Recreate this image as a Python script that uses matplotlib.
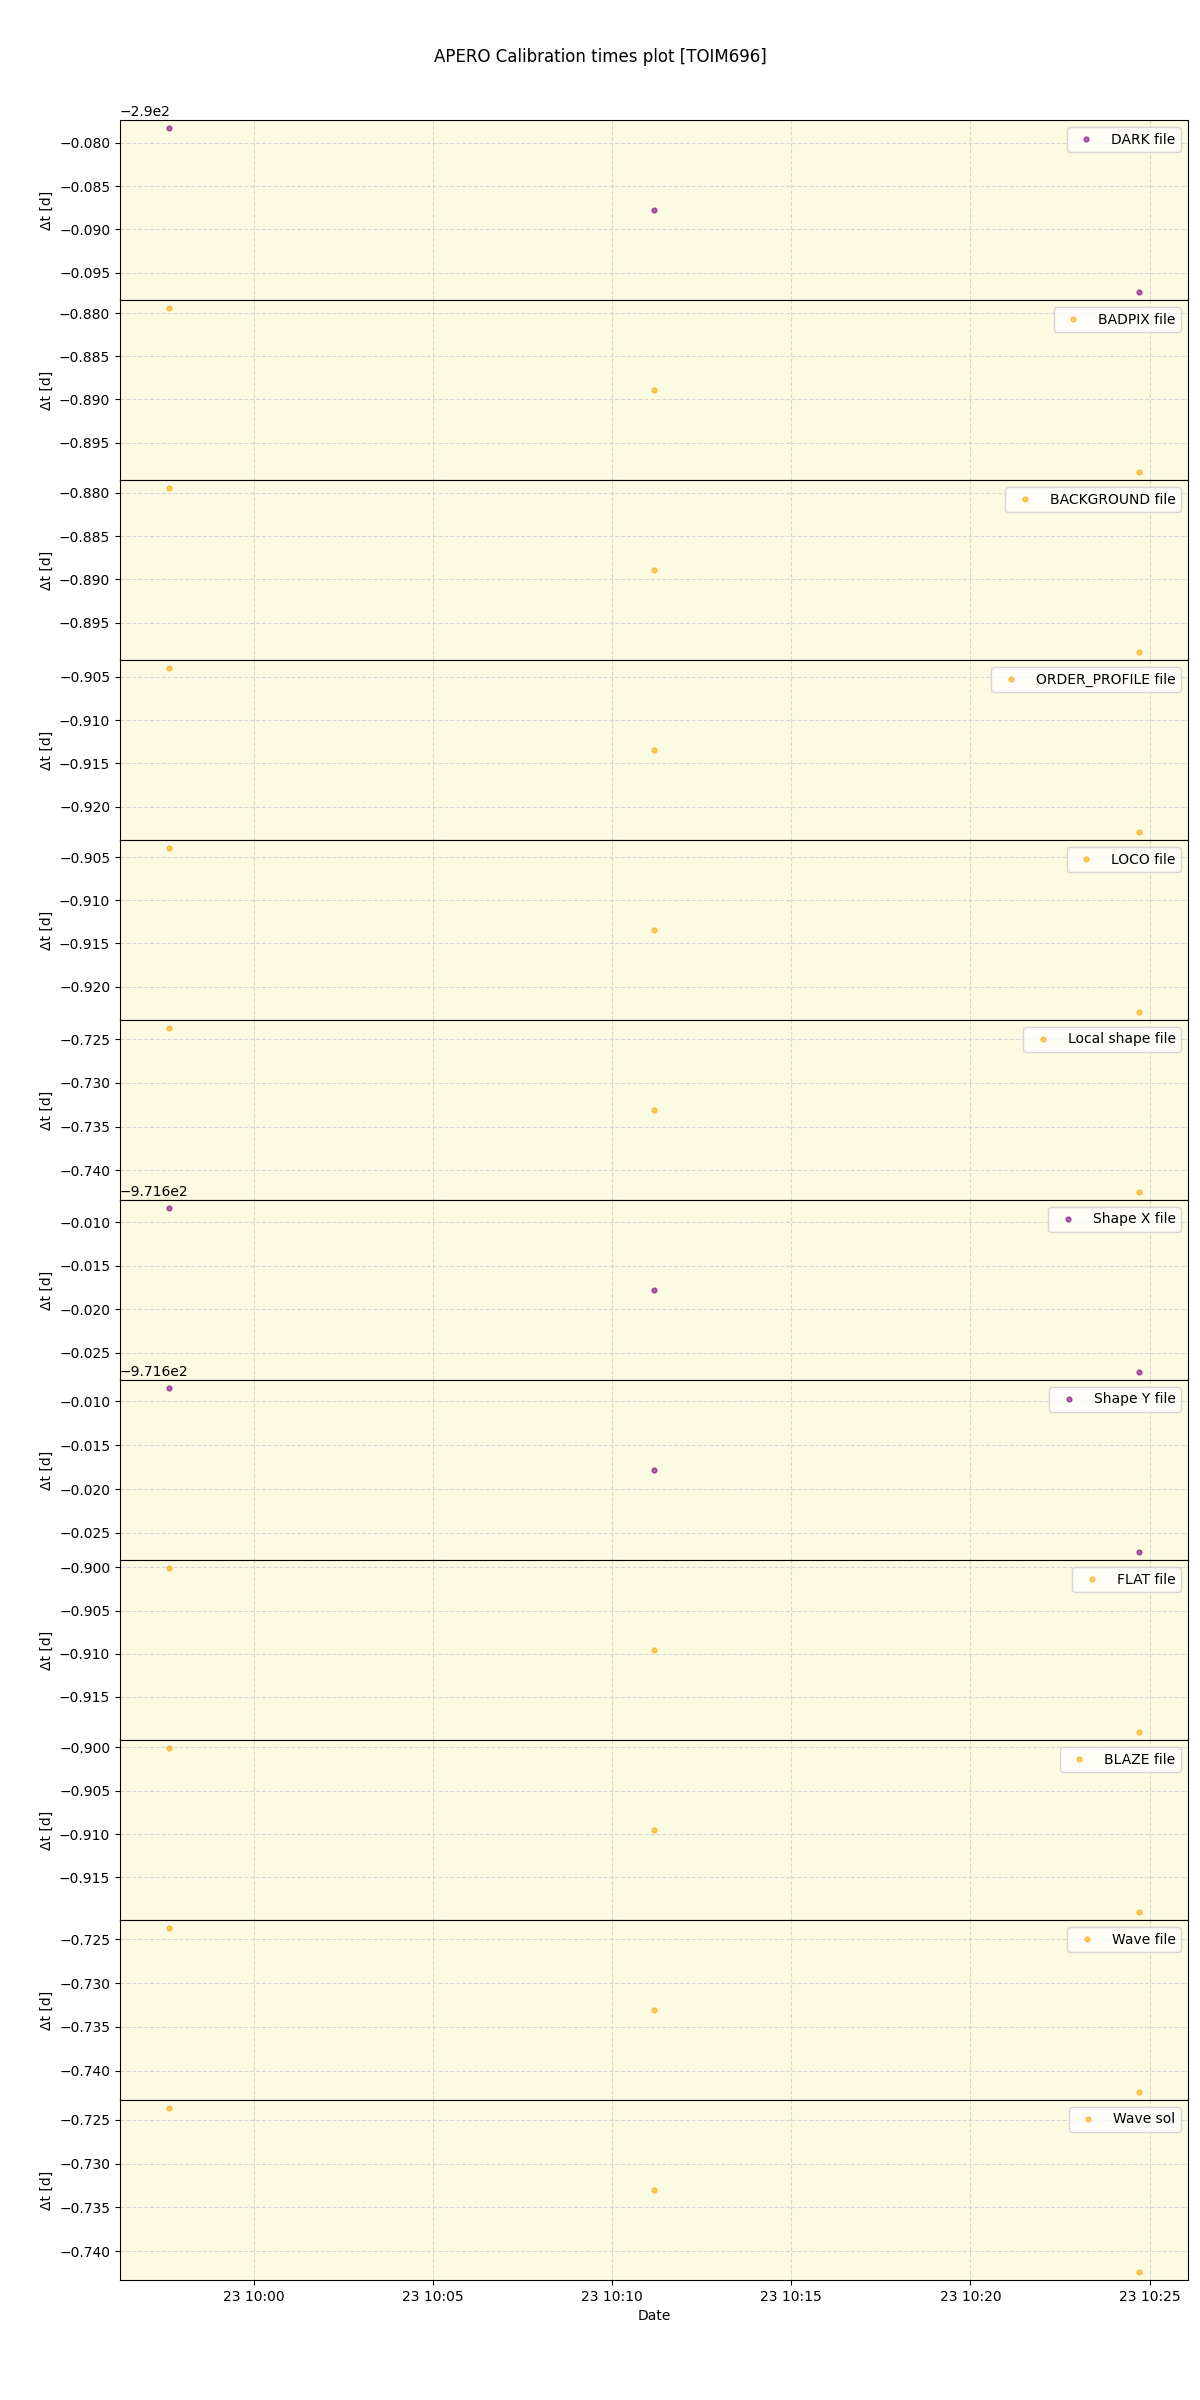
#!/usr/bin/env python3
"""
APERO calibration times plot for TOIM696.

Shows, for each calibration type, the time offset (in days) between
the calibration file used and the observation, against observation date.
"""

from datetime import datetime

import matplotlib
matplotlib.use('Agg')
import matplotlib.pyplot as plt
import numpy as np

# observation times (three exposures)
obs_times = [
    datetime(2023, 6, 23, 9, 57, 37),
    datetime(2023, 6, 23, 10, 11, 10),
    datetime(2023, 6, 23, 10, 24, 43),
]

# calibration types, in panel order
cal_names = ['DARK file', 'BADPIX file', 'BACKGROUND file', 'ORDER_PROFILE file',
             'LOCO file', 'Local shape file', 'Shape X file', 'Shape Y file',
             'FLAT file', 'BLAZE file', 'Wave file', 'Wave sol']

# marker colour per panel
cal_colors = ['purple', 'orange', 'orange', 'orange', 'orange', 'orange',
              'purple', 'purple', 'orange', 'orange', 'orange', 'orange']

# delta t [days] per calibration type
dt_dark = [-290.0783, -290.0878, -290.0972]
dt_badpix = [-0.87944, -0.88891, -0.89838]
dt_background = [-0.87946, -0.88890, -0.89837]
dt_order_profile = [-0.90402, -0.91345, -0.92287]
dt_loco = [-0.90398, -0.91343, -0.92290]
dt_local_shape = [-0.72373, -0.73310, -0.74246]
dt_shape_x = [-971.60839, -971.61782, -971.62718]
dt_shape_y = [-971.60848, -971.61778, -971.62717]
dt_flat = [-0.90008, -0.90956, -0.91904]
dt_blaze = [-0.90008, -0.90956, -0.91898]
dt_wave_file = [-0.72372, -0.73311, -0.74242]
dt_wave_sol = [-0.72365, -0.73305, -0.74236]

dt_values = [dt_dark, dt_badpix, dt_background, dt_order_profile, dt_loco,
             dt_local_shape, dt_shape_x, dt_shape_y, dt_flat, dt_blaze,
             dt_wave_file, dt_wave_sol]


def main():
    fig, axes = plt.subplots(len(cal_names), 1, figsize=(12, 24), sharex=True)
    fig.subplots_adjust(left=0.1, right=0.99, top=0.95, bottom=0.05, hspace=0)

    for ax, name, color, dt in zip(axes, cal_names, cal_colors, dt_values):
        ax.set_facecolor('#fcfae1')
        ax.plot(obs_times, dt, marker='o', linestyle='none', markersize=3.5,
                color=color, alpha=0.6, label=name)
        ax.grid(True, linestyle='--', color='lightgray', alpha=0.9)
        ax.set_ylabel('\u0394t [d]')
        ax.legend(loc='upper right')

    axes[-1].set_xlabel('Date')
    fig.suptitle('APERO Calibration times plot [TOIM696]')

    fig.savefig('out.png', dpi=100)
    print('[SUCCESS] saved out.png')


if __name__ == '__main__':
    main()
